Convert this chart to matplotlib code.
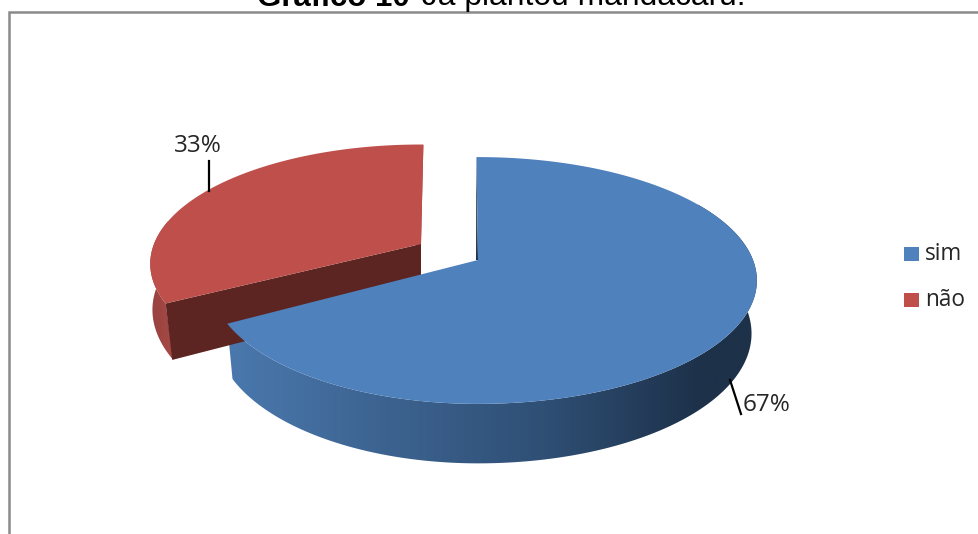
"""
Gráfico de pizza 3D (fatias destacadas) desenhado em projeção
"""

import numpy as np
import matplotlib
matplotlib.use('Agg')
import matplotlib.pyplot as plt
from matplotlib.colors import LinearSegmentedColormap
from matplotlib.patches import Polygon, Rectangle

categorias = ['sim', 'não']
valores = [67, 33]
rotulos = ['67%', '33%']

cor_sim = '#4f81bd'
cor_nao = '#be4f4b'
cor_corte_nao = '#5c2522'
cor_borda = '#8a8a8a'

# parametros da projecao (pixels)
PERSP = 0.166
PROF = 52
CENTRO_X = 490


def aro(t, x0, y0, ax_dir, ax_esq, alt, base=False, encolhe=1.0, desloc=0.0):
    """Pontos da borda da fatia para os angulos t (graus, horario a partir do topo)"""
    r = np.radians(t)
    u, v = np.sin(r), -np.cos(r)
    d = 1 - PERSP * v
    larg = np.where(u > 0, ax_dir, ax_esq)
    x = x0 + larg * u / d
    if base:
        x = CENTRO_X + encolhe * (x - CENTRO_X) + desloc * v
        y = y0 + (encolhe * alt * v + PROF) / d
    else:
        y = y0 + alt * v / d
    return np.column_stack([x, y])


def parede(ax, pontos_topo, pontos_base, cores, x_ini, x_fim):
    """Parede externa com degrade horizontal recortado pelo contorno"""
    contorno = np.vstack([pontos_topo, pontos_base[::-1]])
    mapa = LinearSegmentedColormap.from_list('parede', cores)
    grad = np.linspace(0, 1, 256).reshape(1, -1)
    img = ax.imshow(grad, cmap=mapa, aspect='auto',
                    extent=(x_ini, x_fim, 534, 0), zorder=2)
    img.set_clip_path(Polygon(contorno, closed=True, transform=ax.transData))


fig = plt.figure(figsize=(9.79, 5.34), dpi=100)
ax = fig.add_axes([0, 0, 1, 1])

# moldura do grafico
ax.plot([9, 9, 979], [534, 12, 12], color=cor_borda, lw=1.8, zorder=1,
        solid_joinstyle='miter')

# angulos das fatias a partir dos valores
total = sum(valores)
varre_sim = 360 * valores[0] / total
varre_nao = 360 * valores[1] / total

# fatia "não"
xn, yn = 421, 244
larg_n, alt_n = 267, 116
ini_n = varre_sim + 0.6
t_n = np.linspace(ini_n, ini_n + varre_nao, 200)
topo_n = aro(t_n, xn, yn, larg_n, larg_n, alt_n)
base_n = aro(t_n, xn, yn, larg_n, larg_n, alt_n, base=True, desloc=14)
centro_base_n = [xn, yn + PROF]

t_lat = np.linspace(ini_n, ini_n + 40, 60)
parede(ax, aro(t_lat, xn, yn, larg_n, larg_n, alt_n),
       aro(t_lat, xn, yn, larg_n, larg_n, alt_n, base=True, desloc=16),
       ['#96413e', '#a84a47'], 145, 180)

# parede reta do lado direito da fatia
ax.add_patch(Polygon([topo_n[-1], [xn, yn], centro_base_n, base_n[-1]],
                     closed=True, fc='#a3403d', ec='none', zorder=3))
# corte frontal escuro
ax.add_patch(Polygon([[xn, yn], topo_n[0], base_n[0], centro_base_n],
                     closed=True, fc=cor_corte_nao, ec='none', zorder=3))
ax.add_patch(Polygon(np.vstack([[[xn, yn]], topo_n]), closed=True,
                     fc=cor_nao, ec='none', zorder=4))

# fatia "sim"
xs, ys = 478, 260
ad, ae, alt_s = 275, 264, 120
ini_s = -0.4
t_s = np.linspace(ini_s, ini_s + varre_sim, 400)
topo_s = aro(t_s, xs, ys, ad, ae, alt_s)

t_par = np.linspace(60, ini_s + varre_sim, 240)
parede(ax, aro(t_par, xs, ys, ad, ae, alt_s),
       aro(t_par, xs, ys, ad, ae, alt_s, base=True, encolhe=0.98),
       ['#4a78ad', '#3c6390', '#2f4f75', '#1d3149', '#1d3149'], 228, 860)

# filete escuro do corte junto ao topo
ax.add_patch(Polygon([topo_s[0], [xs, ys], [xs - 2, ys]], closed=True,
                     fc='#1d3149', ec='none', zorder=5))
ax.add_patch(Polygon(np.vstack([[[xs, ys]], topo_s]), closed=True,
                     fc=cor_sim, ec='none', zorder=6))

ax.set_xlim(0, 979)
ax.set_ylim(534, 0)
ax.axis('off')

# rotulos com linha de chamada
fonte = 'Open Sans'
ax.plot([209, 209], [161, 191], color='black', lw=1.6, zorder=7)
ax.text(198, 146, rotulos[1], ha='center', va='center', fontsize=17.5,
        family=fonte, color='#262626', zorder=8)
ax.plot([730, 741], [380, 414], color='black', lw=1.6, zorder=7)
ax.text(767, 405, rotulos[0], ha='center', va='center', fontsize=17.5,
        family=fonte, color='#262626', zorder=8)

# legenda
for y_leg, nome, cor in zip([254, 300], categorias, [cor_sim, cor_nao]):
    ax.add_patch(Rectangle((904, y_leg - 7), 15, 14, fc=cor, ec='none', zorder=8))
    ax.text(925, y_leg, nome, ha='left', va='center', fontsize=16.3,
            family=fonte, color='#262626', zorder=8)

# titulo em duas partes (negrito + normal)
t1 = ax.text(257, 5.5, 'Gráfico 10', ha='left', va='baseline', fontsize=22.5,
             family='Liberation Sans', weight='bold', color='black')
fig.canvas.draw()
fim = t1.get_window_extent().x1
ax.text(fim + 12, 5.5, 'Já plantou mandacaru.', ha='left', va='baseline',
        fontsize=22.9, family='Liberation Sans', color='black')

fig.savefig('out.png', dpi=100, facecolor='white')
